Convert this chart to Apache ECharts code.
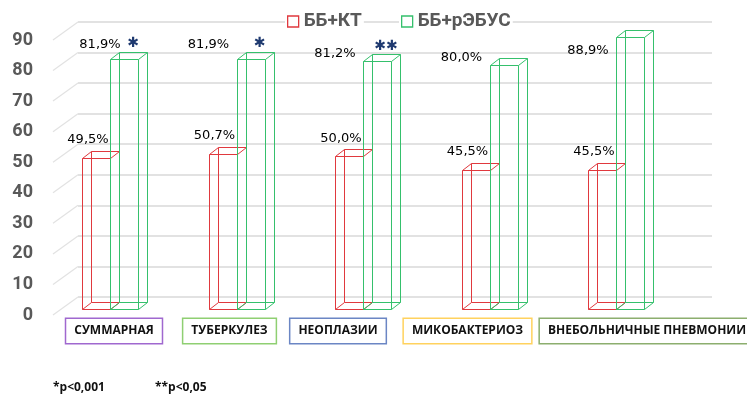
<!DOCTYPE html>
<html>
<head>
<meta charset="utf-8">
<script src="https://cdn.jsdelivr.net/npm/echarts@6/dist/echarts.min.js"></script>
<style>
  html, body { margin: 0; padding: 0; background: #fff; }
  #chart { width: 747px; height: 394px; }
</style>
</head>
<body>
<div id="chart"></div>
<script>
// ---- data ----
const categories = ['СУММАРНАЯ', 'ТУБЕРКУЛЕЗ', 'НЕОПЛАЗИИ', 'МИКОБАКТЕРИОЗ', 'ВНЕБОЛЬНИЧНЫЕ ПНЕВМОНИИ'];
const seriesNames = ['ББ+КТ', 'ББ+рЭБУС'];
const bbKt = [49.5, 50.7, 50.0, 45.5, 45.5];
const bbEbus = [81.9, 81.9, 81.2, 80.0, 88.9];
const significance = ['*', '*', '**', '', ''];
const yTicks = [0, 10, 20, 30, 40, 50, 60, 70, 80, 90];
const footnotes = ['*p<0,001', '**p<0,05'];

// ---- look & layout ----
const RED = '#e0393e';
const GREEN = '#35c06c';
const STAR = '#1f3a70';
const WALL = [25, -18];        // floor depth: front edge -> back wall
const BAR_DEPTH = [9, -7];     // depth of each box
const BAR_FRAC = 28 / 126.5;   // box width as share of a category band
const tagColors = ['#a068cf', '#8fcf72', '#6b86c4', '#ffd25e', '#8cae6e'];
const tagShift = [4, -7, -25, -22, 31];
const ebusLabelNudge = [[18, -4], [0, -4], [0, 3], [0, 3], [0, 23]];
const LABEL_FONT = '13px "DejaVu Sans"';

const fmt = v => v.toFixed(1).replace('.', ',') + '%';
const crisp = x => Math.round(x) + 0.5;

function wireBox(x0, x1, yTop, yBase, color) {
  const [dx, dy] = BAR_DEPTH;
  x0 = crisp(x0); x1 = crisp(x1); yTop = crisp(yTop); yBase = crisp(yBase);
  const st = { fill: 'none', stroke: color, lineWidth: 1 };
  const seg = (a, b, c, d) => ({ type: 'line', shape: { x1: a, y1: b, x2: c, y2: d }, style: st });
  return [
    { type: 'rect', shape: { x: x0 + dx, y: yTop + dy, width: x1 - x0, height: yBase - yTop }, style: st },
    { type: 'rect', shape: { x: x0, y: yTop, width: x1 - x0, height: yBase - yTop }, style: st },
    seg(x0, yTop, x0 + dx, yTop + dy),
    seg(x1, yTop, x1 + dx, yTop + dy),
    seg(x0, yBase, x0 + dx, yBase + dy),
    seg(x1, yBase, x1 + dx, yBase + dy)
  ];
}

function barRenderer(side) {
  return function (params, api) {
    const i = api.value(0), v = api.value(1);
    const base = api.coord([i, 0]);
    const top = api.coord([i, v]);
    const w = api.size([1, 0])[0] * BAR_FRAC;
    const x0 = side === 0 ? base[0] - w : base[0];
    const x1 = x0 + w;
    const color = side === 0 ? RED : GREEN;
    const children = wireBox(x0, x1, top[1], base[1], color);
    let lx, ly;
    if (side === 0) {
      lx = x0 + w / 2 - 8; ly = top[1] - 18;
    } else {
      const n = ebusLabelNudge[i];
      lx = x0 - 28 + n[0]; ly = top[1] - 10 + n[1];
    }
    children.push({
      type: 'text',
      style: { text: fmt(v), x: lx, y: ly, align: 'center', verticalAlign: 'middle', font: LABEL_FONT, fill: '#000' }
    });
    if (side === 1 && significance[i]) {
      children.push({
        type: 'text',
        style: {
          text: significance[i].replace(/\*/g, '\u2731'),
          x: x0 + w / 2 + 9, y: top[1] - 15,
          align: 'center', verticalAlign: 'middle',
          font: 'bold 14px "DejaVu Sans"', fill: STAR
        }
      });
    }
    return { type: 'group', children };
  };
}

const chart = echarts.init(document.getElementById('chart'));
const legendText = { color: '#595959', fontFamily: 'Roboto', fontWeight: 'bold', fontSize: 19 };

chart.setOption({
  animation: false,
  backgroundColor: '#fff',
  grid: [
    { left: 46.75, width: 632.5, top: 34, height: 275 },   // plane of the box fronts
    { left: 78, width: 634, top: 22, height: 275 },         // back wall
    { left: 53, width: 634, top: 40, height: 275 }          // front edge (axis labels)
  ],
  xAxis: [
    { gridIndex: 0, type: 'category', data: categories, show: false },
    { gridIndex: 1, type: 'value', min: 0, max: 1, show: false },
    { gridIndex: 2, type: 'value', min: 0, max: 1, show: false }
  ],
  yAxis: [
    { gridIndex: 0, type: 'value', min: 0, max: 90, interval: 10, show: false },
    {
      gridIndex: 1, type: 'value', min: 0, max: 90, interval: 10,
      axisLine: { show: false }, axisTick: { show: false }, axisLabel: { show: false },
      splitLine: { show: true, lineStyle: { color: '#d9d9d9', width: 1.5 } }
    },
    {
      gridIndex: 2, type: 'value', min: 0, max: 90, interval: 10,
      axisLine: { show: false }, axisTick: { show: false }, splitLine: { show: false },
      axisLabel: { margin: 20, color: '#595959', fontFamily: 'Roboto', fontWeight: 'bold', fontSize: 18 }
    }
  ],
  legend: [
    {
      data: [{ name: seriesNames[0], icon: 'rect', itemStyle: { color: '#fff', borderColor: RED, borderWidth: 1.3 } }],
      left: 285, top: 12, padding: [0, 2], backgroundColor: '#fff', selectedMode: false,
      itemWidth: 11, itemHeight: 11, textStyle: legendText
    },
    {
      data: [{ name: seriesNames[1], icon: 'rect', itemStyle: { color: '#fff', borderColor: GREEN, borderWidth: 1.3 } }],
      left: 399, top: 12, padding: [0, 2], backgroundColor: '#fff', selectedMode: false,
      itemWidth: 11, itemHeight: 11, textStyle: legendText
    }
  ],
  series: [
    {
      // slanted floor lines joining the front edge to the back wall
      type: 'custom', xAxisIndex: 1, yAxisIndex: 1, silent: true, z: 1,
      data: yTicks.map(t => [0, t]),
      renderItem: (params, api) => {
        const p = api.coord([0, api.value(1)]);
        return {
          type: 'line',
          shape: { x1: p[0], y1: p[1], x2: p[0] - WALL[0], y2: p[1] - WALL[1] },
          style: { stroke: '#e2e2e2', lineWidth: 1.2 }
        };
      }
    },
    {
      name: seriesNames[0], type: 'custom', xAxisIndex: 0, yAxisIndex: 0, z: 3,
      itemStyle: { color: RED },
      data: bbKt.map((v, i) => [i, v]),
      renderItem: barRenderer(0)
    },
    {
      name: seriesNames[1], type: 'custom', xAxisIndex: 0, yAxisIndex: 0, z: 4,
      itemStyle: { color: GREEN },
      data: bbEbus.map((v, i) => [i, v]),
      renderItem: barRenderer(1)
    },
    {
      // framed category captions under the floor
      type: 'custom', xAxisIndex: 0, yAxisIndex: 0, silent: true, z: 5,
      data: categories.map((c, i) => [i, 0]),
      renderItem: (params, api) => {
        const i = api.value(0);
        const p = api.coord([i, 0]);
        return {
          type: 'text',
          style: {
            text: categories[i], x: p[0] + tagShift[i], y: p[1] + 22,
            align: 'center', verticalAlign: 'middle',
            font: 'bold 12px "Open Sans"', fill: '#111',
            backgroundColor: '#fff', borderColor: tagColors[i], borderWidth: 1.5,
            padding: [6, 8, 6, 8]
          }
        };
      }
    }
  ],
  graphic: footnotes.map((t, k) => ({
    type: 'text', left: k === 0 ? 53 : 155, top: 382,
    style: { text: t, font: 'bold 12px "Open Sans"', fill: '#111' }
  }))
});
</script>
</body>
</html>
